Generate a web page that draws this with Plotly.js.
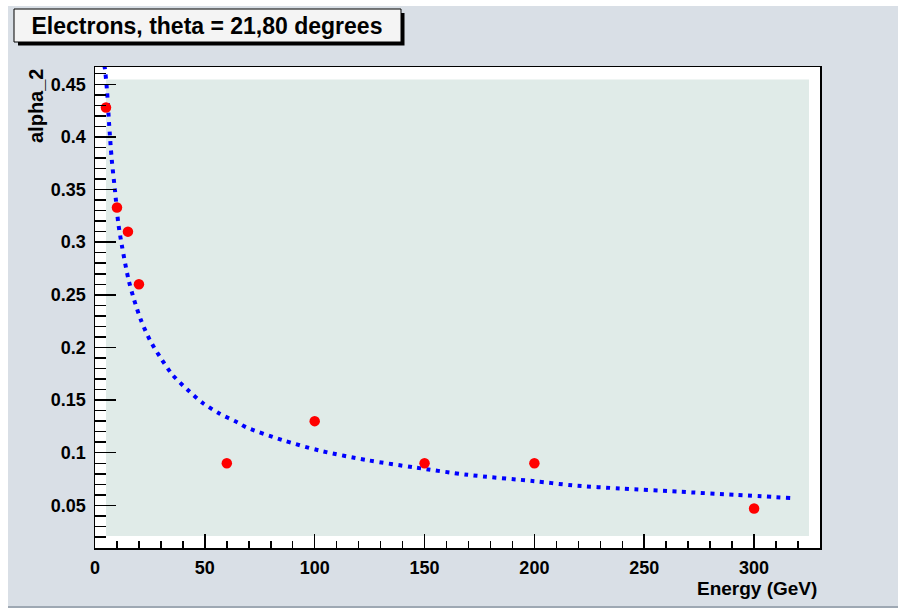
<!DOCTYPE html>
<html>
<head>
<meta charset="utf-8">
<script src="https://cdn.plot.ly/plotly-3.0.1.min.js"></script>
<style>
  html, body { margin: 0; padding: 0; background: #ffffff; }
  #canvas { position: absolute; left: 8px; top: 6px; width: 890px; height: 600px;
            background: #d9dfe6; border-bottom: 2px solid #9ea8b3; }
  #chart { position: absolute; left: 0; top: 0; width: 898px; height: 608px; }
</style>
</head>
<body>
<div id="canvas"></div>
<div id="chart"></div>
<script>
// Measured alpha_2 values per beam energy
const energy = [5, 10, 15, 20, 60, 100, 150, 200, 300];
const alpha2 = [0.428, 0.333, 0.31, 0.26, 0.09, 0.13, 0.09, 0.09, 0.047];

// Fitted curve, sampled along its length
const fitEnergy = [4.2, 4.5, 5.5, 6.4, 7.6, 9.1, 10.6, 12.3, 15.2, 17.7, 20.9, 25, 29.9, 35.3,
                   42, 49.2, 56.8, 64.7, 69, 85.3, 102.3, 123.8, 145.5, 169.7, 200, 217.4,
                   239.4, 265.6, 291.7, 316.7];
const fitAlpha = [0.468, 0.465, 0.443, 0.413, 0.379, 0.349, 0.318, 0.296, 0.265, 0.246, 0.226,
                  0.207, 0.190, 0.174, 0.160, 0.147, 0.137, 0.129, 0.124, 0.112, 0.102, 0.093,
                  0.086, 0.079, 0.073, 0.069, 0.066, 0.063, 0.060, 0.057];

const titleText = 'Electrons, theta = 21,80 degrees';
const xTitle = 'Energy (GeV)';
const yTitle = 'alpha_2';

const font = 'Liberation Sans, Arial, Helvetica, sans-serif';

// plot area: 95..820 px horizontally, 67..548 px vertically
const L = 95, R = 78, T = 67, B = 60, W = 898 - L - R, H = 608 - T - B;
const px = x => (x - L) / W;
const py = y => (608 - B - y) / H;

const traces = [
  {
    x: fitEnergy, y: fitAlpha, mode: 'lines', type: 'scatter',
    line: { color: '#0000ff', width: 4, dash: '4px,5.5px', shape: 'spline', smoothing: 0.8 },
    hoverinfo: 'skip'
  },
  {
    x: energy, y: alpha2, mode: 'markers', type: 'scatter',
    marker: { color: '#ff0000', size: 10.5, symbol: 'circle', line: { width: 0 } }
  }
];

const layout = {
  width: 898, height: 608,
  margin: { l: L, r: R, t: T, b: B, pad: 0 },
  paper_bgcolor: 'rgba(0,0,0,0)',
  plot_bgcolor: '#ffffff',
  showlegend: false,
  font: { family: font, color: '#000000' },
  title: {
    text: titleText,
    font: { family: font, size: 23, weight: 'bold', color: '#000000' },
    xref: 'container', yref: 'container',
    x: 207 / 898, xanchor: 'center',
    y: 1 - 26 / 608, yanchor: 'middle'
  },
  xaxis: {
    range: [0, 330],
    showgrid: false, zeroline: false,
    showline: true, linecolor: '#000000', linewidth: 1.5, mirror: true,
    ticks: 'inside', ticklen: 14, tickwidth: 1.5, tickcolor: '#000000',
    dtick: 50, tick0: 0,
    minor: { dtick: 10, ticks: 'inside', ticklen: 7, tickwidth: 1.5, tickcolor: '#000000' },
    tickfont: { family: font, size: 18, weight: 'bold', color: '#000000' },
    ticklabelstandoff: 3
  },
  yaxis: {
    range: [0.0095, 0.4664],
    showgrid: false, zeroline: false,
    showline: true, linecolor: '#000000', linewidth: 1.5, mirror: true,
    ticks: 'inside', ticklen: 21, tickwidth: 1.5, tickcolor: '#000000',
    dtick: 0.05, tick0: 0,
    minor: { dtick: 0.01, ticks: 'inside', ticklen: 11, tickwidth: 1.5, tickcolor: '#000000' },
    tickfont: { family: font, size: 18, weight: 'bold', color: '#000000' },
    ticklabelstandoff: 4
  },
  shapes: [
    // inner frame fill
    { type: 'rect', xref: 'paper', yref: 'paper', layer: 'below',
      x0: px(106), x1: px(809), y0: py(536), y1: py(79.5),
      fillcolor: '#e0ebe8', line: { width: 0 } },
    // title box shadow and box
    { type: 'rect', xref: 'paper', yref: 'paper', layer: 'above',
      x0: px(18), x1: px(404.5), y0: py(45.5), y1: py(13),
      fillcolor: '#000000', line: { width: 0 } },
    { type: 'rect', xref: 'paper', yref: 'paper', layer: 'above',
      x0: px(14), x1: px(401), y0: py(42), y1: py(9),
      fillcolor: '#f4f4f4', line: { color: '#000000', width: 1 } }
  ],
  annotations: [
    { text: yTitle, xref: 'paper', yref: 'paper', x: px(36), y: 1,
      xanchor: 'center', yanchor: 'top', textangle: -90, showarrow: false,
      font: { family: font, size: 20, weight: 'bold', color: '#000000' } },
    { text: xTitle, xref: 'paper', yref: 'paper', x: px(819), y: py(588),
      xanchor: 'right', yanchor: 'middle', showarrow: false,
      font: { family: font, size: 19, weight: 'bold', color: '#000000' } }
  ]
};

Plotly.newPlot('chart', traces, layout, { staticPlot: true, displayModeBar: false });
</script>
</body>
</html>
